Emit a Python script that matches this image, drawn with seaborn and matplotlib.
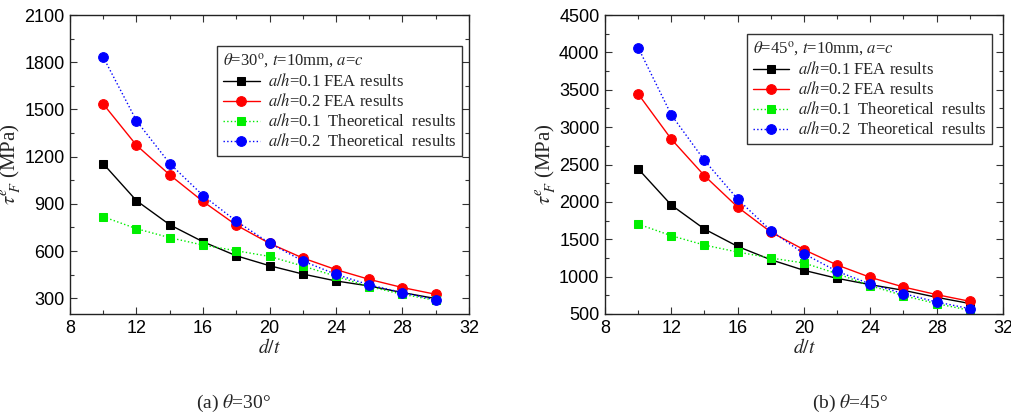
import matplotlib
matplotlib.use("Agg")
import matplotlib.pyplot as plt
from matplotlib.ticker import MultipleLocator
import seaborn as sns
import pandas as pd

# d/t values shared by every series
d_over_t = [10, 12, 14, 16, 18, 20, 22, 24, 26, 28, 30]

# theta = 30 deg
fea_01_30 = [1155, 920, 767, 659, 570, 507, 454, 410, 378, 336, 298]
fea_02_30 = [1534, 1272, 1084, 915, 765, 649, 556, 482, 420, 368, 325]
theo_01_30 = [818, 742, 685, 638, 602, 566, 505, 440, 374, 325, 287]
theo_02_30 = [1832, 1428, 1156, 953, 790, 651, 537, 452, 385, 336, 290]

# theta = 45 deg
fea_01_45 = [2442, 1957, 1636, 1404, 1226, 1084, 977, 892, 817, 723, 640]
fea_02_45 = [3444, 2839, 2349, 1930, 1596, 1360, 1155, 990, 861, 759, 670]
theo_01_45 = [1703, 1547, 1422, 1329, 1249, 1182, 1039, 879, 745, 638, 549]
theo_02_45 = [4064, 3164, 2554, 2037, 1614, 1306, 1070, 901, 772, 661, 571]

labels = [
    r"$a/h$=0.1 FEA results",
    r"$a/h$=0.2 FEA results",
    r"$a/h$=0.1  Theoretical  results",
    r"$a/h$=0.2  Theoretical  results",
]
colors = ["#000000", "#ff0000", "#00ee00", "#0000ff"]
markers = ["s", "o", "s", "o"]
msizes = [5.5, 7, 5.5, 7]
lstyles = ["-", "-", ":", ":"]

sns.set_style("ticks")
plt.rcParams["font.family"] = ["Liberation Sans", "DejaVu Sans"]
plt.rcParams["mathtext.fontset"] = "stix"

fig = plt.figure(figsize=(10.12, 4.2), dpi=100)
ax1 = fig.add_axes([70 / 1012, (420 - 314) / 420, 399 / 1012, 299 / 420])
ax2 = fig.add_axes([605 / 1012, (420 - 314) / 420, 398 / 1012, 299 / 420])

panels = [
    (ax1, [fea_01_30, fea_02_30, theo_01_30, theo_02_30], (200, 2100), 300, 150,
     r"$\theta$=30$^{\rm o}$, $t$=10mm, $a$=$c$", r"(a) $\theta$=30°",
     (217, 46, 457, 153), 234),
    (ax2, [fea_01_45, fea_02_45, theo_01_45, theo_02_45], (500, 4500), 500, 250,
     r"$\theta$=45$^{\rm o}$, $t$=10mm, $a$=$c$", r"(b) $\theta$=45°",
     (747, 34, 990, 143), 850),
]

serif = ["Liberation Serif", "DejaVu Serif"]

for ax, series, ylim, ymaj, ymin, title, caption, box, cap_x in panels:
    for vals, lab, c, m, ms, ls in zip(series, labels, colors, markers, msizes, lstyles):
        df = pd.DataFrame({"d/t": d_over_t, "tau": vals})
        sns.lineplot(data=df, x="d/t", y="tau", ax=ax, color=c, marker=m,
                     markersize=ms, linestyle=ls, linewidth=1.0,
                     markeredgecolor=c, label=lab)
    ax.set_xlim(8, 32)
    ax.set_ylim(*ylim)
    ax.xaxis.set_major_locator(MultipleLocator(4))
    ax.xaxis.set_minor_locator(MultipleLocator(2))
    ax.yaxis.set_major_locator(MultipleLocator(ymaj))
    ax.yaxis.set_minor_locator(MultipleLocator(ymin))
    ax.tick_params(which="both", direction="in", top=True, right=True,
                   labelsize=13, width=0.8, colors="#333333", labelcolor="black")
    ax.tick_params(which="major", length=5, pad=4)
    ax.tick_params(which="minor", length=3)
    for sp in ax.spines.values():
        sp.set_linewidth(1.0)
        sp.set_color("#222222")
    ax.set_xlabel(r"$d/t$", fontsize=14, labelpad=1)
    ax.set_ylabel(r"$\tau^{e}_{\ F}$ (MPa)", fontsize=15, family=serif, labelpad=1)

    # legend box placed by its corners in figure pixels
    x0, y0, x1, y1 = box
    pos = ax.get_position()
    lx = (x0 / 1012 - pos.x0) / pos.width
    ly = ((420 - y0) / 420 - pos.y0) / pos.height
    leg = ax.legend(loc="upper left", bbox_to_anchor=(lx, ly), title=title,
                    alignment="left", frameon=True, fancybox=False,
                    prop={"family": serif, "size": 12},
                    title_fontproperties={"family": serif, "size": 12},
                    handlelength=2.2, handletextpad=0.5, labelspacing=0.18,
                    borderpad=0.35, borderaxespad=0.0)
    leg.get_frame().set_edgecolor("black")
    leg.get_frame().set_linewidth(1.0)

    fig.text(cap_x / 1012, (420 - 403) / 420, caption, ha="center", va="center",
             fontsize=14, family=serif)

fig.savefig("out.png", dpi=100, facecolor="white")
